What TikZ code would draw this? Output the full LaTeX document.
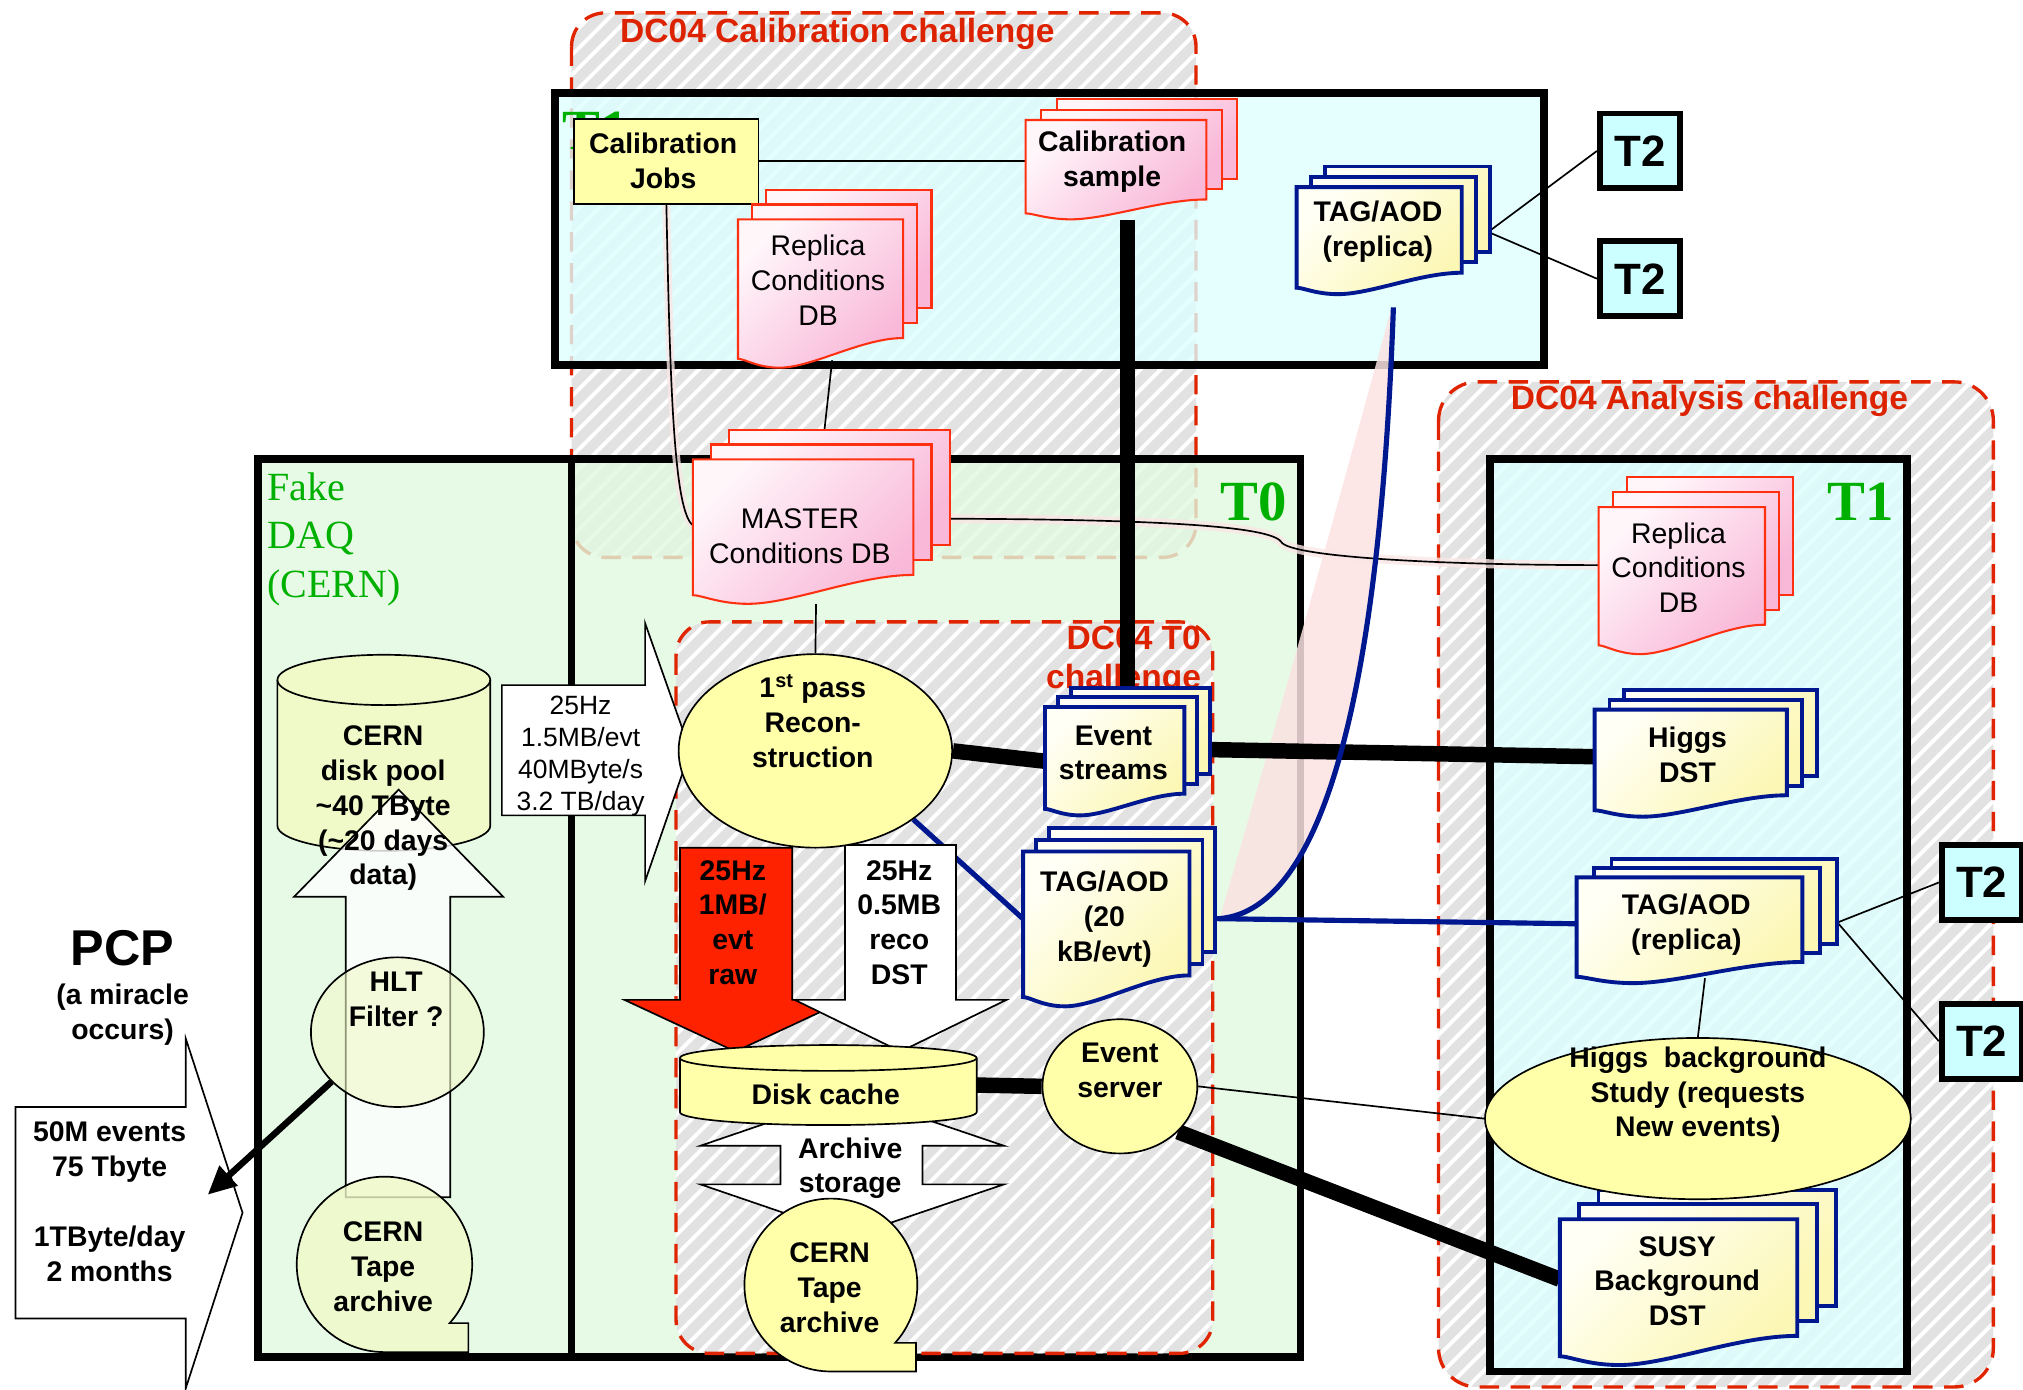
\documentclass[tikz,border=0pt]{standalone}
\usepackage{fontspec}
\setmainfont{Liberation Sans}
\newfontfamily\tierfont{Liberation Serif}
\usetikzlibrary{patterns.meta,calc,arrows.meta,shapes.geometric}
\pgfdeclarelayer{boxes}
\pgfdeclarelayer{links}
\pgfsetlayers{boxes,links,main}

\definecolor{hatchgray}{HTML}{E2E2E2}
\definecolor{dashred}{HTML}{E02400}
\definecolor{titlered}{HTML}{DD2200}
\definecolor{tiergreen}{HTML}{00B000}
\definecolor{tonecyan}{HTML}{DEFFFF}
\definecolor{tzerogreen}{HTML}{E0F9E0}
\definecolor{ttwocyan}{HTML}{CCFFFF}
\definecolor{docblue}{HTML}{00188F}
\definecolor{docred}{HTML}{FF3010}
\definecolor{pinklight}{HTML}{FFF6FA}
\definecolor{pinkdark}{HTML}{F9B8D8}
\definecolor{yellight}{HTML}{FFFFF6}
\definecolor{yeldark}{HTML}{FCF7B4}
\definecolor{ellyellow}{HTML}{FFFFAA}
\definecolor{poolyellow}{HTML}{F0F9C8}
\definecolor{rawred}{HTML}{FF2200}
\definecolor{wedgepink}{HTML}{FBE2E2}
\definecolor{linkpink}{HTML}{FBE6E6}

\tikzset{
  thinline/.style={line width=1.3pt},
  hatched/.style={fill=hatchgray,postaction={pattern={Lines[angle=45,distance=11pt,line width=3pt]},pattern color=white}},
  challenge/.style={draw=dashred,line width=2.6pt,dash pattern=on 15pt off 9pt},
  tierframe/.style={draw=black,line width=6pt,fill opacity=0.8},
  tiertwo/.style={draw=black,line width=4.5pt,fill=ttwocyan,minimum width=62,minimum height=58,inner sep=0,font=\fontsize{34}{34}\selectfont\bfseries},
  pinkdoc/.style={draw=docred,line width=1.6pt,top color=pinklight,bottom color=pinkdark,shading angle=45},
  bluedoc/.style={draw=docblue,line width=3pt,top color=yellight,bottom color=yeldark,shading angle=45},
  btxt/.style={font=\fontsize{22}{27}\selectfont\bfseries,align=center,inner sep=0},
  rtxt/.style={font=\fontsize{22}{27}\selectfont,align=center,inner sep=0},
  titletxt/.style={font=\fontsize{26}{30}\selectfont\bfseries,text=titlered,inner sep=0},
  tierlabel/.style={font=\tierfont\fontsize{44}{44}\selectfont\bfseries,text=tiergreen,inner sep=0},
  blockarrow/.style={draw=black,thinline,fill=white},
  bigoval/.style={ellipse,draw=black,thinline,fill=ellyellow,inner sep=0},
  fatlink/.style={line width=12pt},
  bluelink/.style={draw=docblue,line width=4pt},
}

% stacked documents: x1, top, x2, lowest point, page shift x, page shift y, style, name
\newcommand\multidoc[8]{%
  \pgfmathsetmacro\mdw{#3-#1}%
  \pgfmathsetmacro\mdh{#4-#2}%
  \pgfmathsetmacro\mdyr{#4-0.2*\mdh}%
  \pgfmathsetmacro\mdyl{#4-0.06*\mdh}%
  \foreach \k in {2,1}{%
    \path[#7] ({#1+\k*#5},{#2-\k*#6}) rectangle ({#3+\k*#5},{\mdyr-\k*#6});
  }%
  \path[#7] (#1,#2) -- (#3,#2) -- (#3,\mdyr)
    .. controls ({#3-0.25*\mdw},\mdyr) and ({#1+0.45*\mdw},#4) .. ({#1+0.25*\mdw},#4)
    .. controls ({#1+0.12*\mdw},#4) and ({#1+0.04*\mdw},\mdyl) .. (#1,\mdyl) -- cycle;
  \node[inner sep=0,minimum width=\mdw,minimum height=\mdh] (#8) at ({(#1+#3)/2},{(#2+#4)/2}) {};
}

\begin{document}
\begin{tikzpicture}[x=1pt,y=-1pt]
\useasboundingbox (0,0) rectangle (1568,1077);

\begin{pgfonlayer}{boxes}
  % DC04 calibration challenge area
  \path[hatched,rounded corners=26pt] (443,10) rectangle (927,432);
  \draw[challenge,rounded corners=26pt] (443,10) rectangle (927,432);
  % DC04 analysis challenge area
  \path[hatched,rounded corners=30pt] (1115,296) rectangle (1545,1075);
  \draw[challenge,rounded corners=30pt] (1115,296) rectangle (1545,1075);
  % Tier-1 centre running the calibration
  \path[tierframe,fill=tonecyan] (430,72) rectangle (1197,283);
  % Tier-0 with the fake DAQ
  \path[tierframe,fill=tzerogreen] (200,356) rectangle (1008,1052);
  \draw[line width=5pt] (443,356) -- (443,1052);
  % Tier-1 centre running the analysis
  \path[tierframe,fill=tonecyan] (1155,356) rectangle (1478,1063);
  % DC04 T0 challenge area
  \path[hatched,rounded corners=26pt] (524,482) rectangle (940,1049);
  \draw[challenge,rounded corners=26pt] (524,482) rectangle (940,1049);
  % titles and tier labels
  \node[titletxt] (calTitle) at (649,26) {DC04 Calibration challenge};
  \node[titletxt] (anaTitle) at (1325,311) {DC04 Analysis challenge};
  \node[titletxt,align=right,anchor=east] (tzTitle) at (931,512) {DC04 T0\\challenge};
  \node[tierlabel] (tzLabel) at (972,389) {T0};
  \node[tierlabel] (toneLabel) at (1442,389) {T1};
  \node[font=\tierfont\fontsize{31}{37.5}\selectfont,text=tiergreen,align=left,anchor=west,inner sep=0] (daqLabel) at (207,418) {Fake\\DAQ\\(CERN)};
  % tier label of the calibration centre, mostly covered by the jobs box
  \node[tierlabel,anchor=west] (toneTop) at (436,101) {T1};
\end{pgfonlayer}

% ---------- calibration tier ----------
\node[draw=black,thinline,fill=ellyellow,minimum width=143,minimum height=66,inner sep=0] (calJobs) at (516.5,125) {};
\node[btxt] (calJobsTxt) at (514,124.5) {Calibration\\Jobs};

\multidoc{795}{93}{935}{170}{12}{8}{pinkdoc}{calSample}
\node[btxt] (calSampleTxt) at (862,125.5) {Calibration\\sample};

\multidoc{572}{170}{700}{285}{11}{11.5}{pinkdoc}{replicaT}
\node[rtxt] (replicaTTxt) at (634,217) {Replica\\Conditions\\DB};

\multidoc{1005}{145}{1133}{228}{11}{8}{bluedoc}{tagT}
\node[btxt] (tagTTxt) at (1068,179.5) {TAG/AOD\\(replica)};

\node[tiertwo] (tTwoA) at (1271,117) {T2};
\node[tiertwo] (tTwoB) at (1271,216) {T2};
\node[tiertwo] (tTwoC) at (1536,684) {T2};
\node[tiertwo] (tTwoD) at (1536,807) {T2};

% ---------- Tier-0 ----------
\multidoc{537}{356}{708}{468}{14}{11.5}{pinkdoc}{master}
\node[rtxt] (masterTxt) at (620,415.5) {MASTER\\Conditions DB};

\path[blockarrow] (389,531) -- (500,531) -- (500,483) -- (535,582) -- (500,683) -- (500,632) -- (389,632) -- cycle;
\node[font=\fontsize{20.5}{24.7}\selectfont,align=center,inner sep=0] (rateTxt) at (450,586) {25Hz\\1.5MB/evt\\40MByte/s\\3.2 TB/day};

\path[blockarrow,fill=rawred] (527,657) -- (614,657) -- (614,775) -- (656,775) -- (570,815) -- (484,775) -- (527,775) -- cycle;
\node[btxt] (rawTxt) at (568,715) {25Hz\\1MB/\\evt\\raw};
\path[blockarrow] (655,655) -- (741,655) -- (741,775) -- (780,775) -- (698,815) -- (616,775) -- (655,775) -- cycle;
\node[btxt] (dstTxt) at (697,715) {25Hz\\0.5MB\\reco\\DST};

\node[bigoval,minimum width=212,minimum height=150] (recon) at (632,582) {};
\node[btxt] (reconTxt) at (630,559) {1\textsuperscript{st} pass\\Recon-\\struction};

\multidoc{810}{548}{918}{632}{10}{7.5}{bluedoc}{evStreams}
\node[btxt] (evStreamsTxt) at (863,583.5) {Event\\streams};

\multidoc{793}{660}{922}{780}{10}{9}{bluedoc}{tag20}
\node[btxt] (tag20Txt) at (856,712.5) {TAG/AOD\\(20\\kB/evt)};

\path[blockarrow] (660,848) -- (778,888) -- (715,888) -- (715,918) -- (778,918) -- (660,958) -- (543,918) -- (605,918) -- (605,888) -- (543,888) -- cycle;
\node[btxt] (archTxt) at (659,905.5) {Archive\\storage};

\path[draw=black,thinline,fill=ellyellow] (527,820) -- (527,862) arc[start angle=180,end angle=0,x radius=115,y radius=10] -- (757,820) arc[start angle=0,end angle=-180,x radius=115,y radius=10] -- cycle;
\draw[thinline] (527,820) arc[start angle=180,end angle=0,x radius=115,y radius=10];
\node[inner sep=0,minimum width=230,minimum height=62] (diskCache) at (642,841) {};
\node[btxt] (diskCacheTxt) at (640,848) {Disk cache};

\node[circle,inner sep=0,minimum size=134] (tapeM) at (644,996) {};
\path[draw=black,thinline,fill=ellyellow] (644,1063) arc[start angle=90,end angle=402,radius=67] -- (710,1040.8) -- (710,1063) -- cycle;
\node[btxt] (tapeMTxt) at (643,998) {CERN\\Tape\\archive};

\node[bigoval,minimum width=120,minimum height=104] (evServer) at (868,842) {};
\node[btxt] (evServerTxt) at (868,829.5) {Event\\server};

% ---------- analysis tier ----------
\multidoc{1239}{393}{1368}{507}{11}{11.5}{pinkdoc}{replicaR}
\node[rtxt] (replicaRTxt) at (1301,440) {Replica\\Conditions\\DB};

\multidoc{1236}{550}{1385}{633}{11.5}{7.5}{bluedoc}{higgsDST}
\node[btxt] (higgsDSTTxt) at (1308,585) {Higgs\\DST};

\multidoc{1222}{680}{1397}{762}{13.5}{7}{bluedoc}{tagR}
\node[btxt] (tagRTxt) at (1307,716.5) {TAG/AOD\\(replica)};

\multidoc{1209}{945}{1393}{1058}{15}{11.5}{bluedoc}{susy}
\node[btxt] (susyTxt) at (1300,993) {SUSY\\Background\\DST};

\node[bigoval,minimum width=330,minimum height=125] (higgsStudy) at (1316,867) {};
\node[btxt] (higgsStudyTxt) at (1316,848.5) {Higgs~~background\\Study (requests\\New events)};

% ---------- fake DAQ and PCP ----------
\path[blockarrow] (12,858) -- (144,858) -- (144,805) -- (188,940) -- (144,1076) -- (144,1022) -- (12,1022) -- cycle;
\node[btxt] (pcpData) at (85,931.5) {50M events\\75 Tbyte\\[27pt]1TByte/day\\2 months};
\node[font=\fontsize{39}{39}\selectfont\bfseries,inner sep=0] (pcpTitle) at (95,735) {PCP};
\node[btxt] (pcpNote) at (95,786.5) {(a miracle\\occurs)};

\path[draw=black,thinline,fill=poolyellow] (215,527) -- (215,640) arc[start angle=180,end angle=0,x radius=82.5,y radius=19.5] -- (380,527) arc[start angle=0,end angle=-180,x radius=82.5,y radius=19.5] -- cycle;
\draw[thinline] (215,527) arc[start angle=180,end angle=0,x radius=82.5,y radius=19.5];
\node[inner sep=0,minimum width=165,minimum height=152] (pool) at (297.5,583.5) {};

\path[blockarrow,fill opacity=0.8] (268,928) -- (268,695) -- (228,695) -- (309,612) -- (390,695) -- (349,695) -- (349,928) -- cycle;
\node[btxt] (poolTxt) at (297,626.5) {CERN\\disk pool\\\textasciitilde40 TByte\\(\textasciitilde20 days\\data)};

\node[ellipse,draw=black,thinline,fill=poolyellow,fill opacity=0.6,minimum width=134,minimum height=116,inner sep=0] (hlt) at (308,800) {};
\node[btxt] (hltTxt) at (307,774.5) {HLT\\Filter ?};

\node[circle,inner sep=0,minimum size=136] (tapeL) at (298,980) {};
\path[draw=black,thinline,fill=poolyellow,fill opacity=0.8] (298,1048) arc[start angle=90,end angle=402,radius=68] -- (363,1025.5) -- (363,1048) -- cycle;
\node[btxt] (tapeLTxt) at (297,982) {CERN\\Tape\\archive};

\coordinate (pcpIn) at (161,926);
\draw[line width=5pt,-{Triangle[length=22pt,width=20pt]}] (hlt.-143) -- (pcpIn);

% ---------- connections ----------
\begin{pgfonlayer}{links}
  % pale band behind the TAG/AOD replication curve
  \path[fill=wedgepink,opacity=0.85] ($(tag20.east)+(23,-8)$) .. controls (990,560) and (1040,380) .. ($(tagT.south)+(9,12)$) .. controls (1070,520) and (1030,705) .. ($(tag20.east)+(23,-8)$);

  \draw[thinline] (calJobs.east) -- (calJobs.east -| calSample.west);
  \draw[line width=6pt,linkpink,opacity=0.8] (calJobs.south) .. controls +(3,150) and +(-14,-12) .. ($(master.west)+(0,-5)$);
  \draw[thinline] (calJobs.south) .. controls +(3,150) and +(-14,-12) .. ($(master.west)+(0,-5)$);
  \draw[thinline] ($(replicaT.south)+(9,-6)$) -- ($(master.north)+(14,0)$);
  \draw[thinline] ($(master.south)+(10,0)$) -- (recon.north);
  \draw[line width=7pt,linkpink,opacity=0.8] ($(master.east)+(0,-10)$) .. controls (900,402) and (985,408) .. (993,420) .. controls (1000,432) and (1120,438) .. ($(replicaR.west)+(0,-12)$);
  \draw[thinline] ($(master.east)+(0,-10)$) .. controls (900,402) and (985,408) .. (993,420) .. controls (1000,432) and (1120,438) .. ($(replicaR.west)+(0,-12)$);

  \draw[fatlink] ($(calSample.south)+(9,0)$) -- ($(evStreams.north)+(10,0)$);
  \draw[fatlink] (recon.east) -- (evStreams.west);
  \draw[fatlink] ($(evStreams.east)+(20,-9)$) -- ($(higgsDST.west)+(0,-5)$);

  \draw[bluelink] (recon.-35) -- ($(tag20.west)+(0,-8)$);
  \draw[bluelink] ($(tag20.east)+(20,-8)$) -- ($(tagR.west)+(0,-5)$);
  \draw[bluelink] ($(tag20.east)+(23,-8)$) .. controls (1030,705) and (1070,520) .. ($(tagT.south)+(11,10)$);

  \draw[thinline] ($(tagT.east)+(22,-8)$) -- (tTwoA.west);
  \draw[thinline] ($(tagT.east)+(22,-6)$) -- (tTwoB.west);
  \draw[thinline] ($(tagR.east)+(27,-6)$) -- (tTwoC.west);
  \draw[thinline] ($(tagR.east)+(27,-6)$) -- (tTwoD.west);
  \draw[thinline] ($(tagR.south)+(12,-4)$) -- (higgsStudy.north);
  \draw[thinline] (evServer.east) -- (higgsStudy.west);
  \draw[fatlink] (evServer.-38) -- ($(susy.west)+(0,-10)$);
  \draw[fatlink] (diskCache.east) -- (evServer.west);
\end{pgfonlayer}
\end{tikzpicture}
\end{document}
